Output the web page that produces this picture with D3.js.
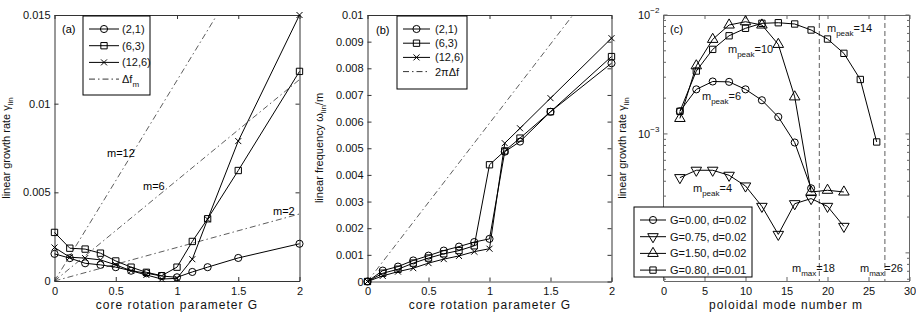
<!DOCTYPE html>
<html>
<head>
<meta charset="utf-8">
<script src="https://cdn.jsdelivr.net/npm/d3@7"></script>
<style>
  body { margin: 0; background: #fff; }
  svg { display: block; font-family: "Liberation Sans", Arial, Helvetica, sans-serif; }
</style>
</head>
<body>
<svg id="fig" width="916" height="316"></svg>
<script>
// ---- data: panel (a) growth rate vs G ----
const gValues = [0, 0.125, 0.25, 0.375, 0.5, 0.625, 0.75, 0.875, 1, 1.125, 1.25, 1.5, 2];
const gammaA21 = [0.00153, 0.00129, 0.00100, 0.00091, 0.00078, 0.00058, 0.00044, 0.00028, 0.00021, 0.00051, 0.00078, 0.00130, 0.00210];
const gammaA63 = [0.00274, 0.00185, 0.00180, 0.00157, 0.00113, 0.00078, 0.00049, 0.00030, 0.00078, 0.00223, 0.00351, 0.00623, 0.01182];
const gammaA126 = [0.00189, 0.00134, 0.00129, 0.00119, 0.00091, 0.00058, 0.00034, 0.00011, 0.00015, 0.00123, 0.00348, 0.00789, 0.01500];
const dfNames = ["m=2", "m=6", "m=12"];
const dfG = [[0, 2], [0, 2], [0, 1.326]];
const dfVal = [[0, 0.00378], [0, 0.01136], [0, 0.015]];
const legendA = ["(2,1)", "(6,3)", "(12,6)"];

// ---- data: panel (b) frequency vs G ----
const omegaB21 = [0, 0.00041, 0.00056, 0.00079, 0.00097, 0.00116, 0.00131, 0.00148, 0.00160, 0.00487, 0.00525, 0.00637, 0.00819];
const omegaB63 = [0, 0.00031, 0.00046, 0.00069, 0.00088, 0.00104, 0.00116, 0.00134, 0.00438, 0.00490, 0.00538, 0.00637, 0.00844];
const omegaB126 = [0, 0.00021, 0.00037, 0.00050, 0.00069, 0.00084, 0.00096, 0.00112, 0.00123, 0.00519, 0.00575, 0.00688, 0.00913];
const twoPiDfG = [0, 1.684];
const twoPiDfVal = [0, 0.01];

// ---- data: panel (c) growth rate vs m ----
const mG000 = [2, 4, 6, 8, 10, 12, 14, 16, 18];
const gammaG000 = [0.00155, 0.00237, 0.00276, 0.00274, 0.00237, 0.00192, 0.00139, 0.000847, 0.000349];
const mG075 = [2, 4, 6, 8, 10, 12, 14, 16, 18, 20, 22];
const gammaG075 = [0.000429, 0.000495, 0.000495, 0.000449, 0.000365, 0.000246, 0.000143, 0.000259, 0.000286, 0.000246, 0.000167];
const mG150 = [2, 4, 6, 8, 10, 12, 14, 16, 18, 20, 22];
const gammaG150 = [0.00135, 0.00374, 0.00624, 0.00824, 0.00878, 0.00824, 0.00566, 0.00205, 0.000325, 0.000336, 0.000325];
const mG080 = [2, 4, 6, 8, 10, 12, 14, 16, 18, 20, 22, 24, 26];
const gammaG080 = [0.00155, 0.00338, 0.00514, 0.00669, 0.00773, 0.00851, 0.00861, 0.00840, 0.00748, 0.00628, 0.00476, 0.00287, 0.000856];
const mMax = [19, 27];
const legendC = ["G=0.00, d=0.02", "G=0.75, d=0.02", "G=1.50, d=0.02", "G=0.80, d=0.01"];

// ---- tick values ----
const gTicks = [0, 0.5, 1, 1.5, 2];
const yTicksA = [0, 0.005, 0.01, 0.015];
const yTicksB = [0, 0.001, 0.002, 0.003, 0.004, 0.005, 0.006, 0.007, 0.008, 0.009, 0.01];
const mTicks = [0, 5, 10, 15, 20, 25, 30];
const logMajor = [1e-4, 1e-3, 1e-2];
const logLabels = ["-4", "-3", "-2"];

const svg = d3.select("#fig");
const axisColor = "#333";
const dashDot = "6,3,1.5,3";

function markerPath(mk) {
  if (mk === "o") return d3.symbol(d3.symbolCircle, 40)();
  if (mk === "s") return d3.symbol(d3.symbolSquare, 40)();
  if (mk === "x") return "M-3,-3L3,3M-3,3L3,-3";
  return d3.symbol(d3.symbolTriangle, 48)();
}

function series(g, x, y, xs, ys, mk) {
  const pts = xs.map((d, i) => [d, ys[i]]);
  g.append("path").datum(pts)
    .attr("d", d3.line().x(d => x(d[0])).y(d => y(d[1])))
    .attr("fill", "none").attr("stroke", "#000").attr("stroke-width", 1);
  g.selectAll(null).data(pts).join("path")
    .attr("transform", d => `translate(${x(d[0])},${y(d[1])})` + (mk === "v" ? " rotate(180)" : ""))
    .attr("d", markerPath(mk))
    .attr("fill", "none").attr("stroke", "#000").attr("stroke-width", 1);
}

function frame(x, y, xTicks, yTicks, yFmt, color) {
  const [x0, x1] = x.range();
  const [y0, y1] = y.range();
  const g = svg.append("g");
  g.append("g").attr("transform", `translate(0,${y0})`)
    .call(d3.axisBottom(x).tickValues(xTicks).tickSize(-4).tickSizeOuter(0).tickPadding(6).tickFormat(d3.format("")));
  g.append("g").attr("transform", `translate(0,${y1})`)
    .call(d3.axisTop(x).tickValues(xTicks).tickSize(-4).tickSizeOuter(0).tickFormat(""));
  if (yTicks) {
    g.append("g").attr("transform", `translate(${x0},0)`)
      .call(d3.axisLeft(y).tickValues(yTicks).tickSize(-4).tickSizeOuter(0).tickPadding(4).tickFormat(yFmt));
    g.append("g").attr("transform", `translate(${x1},0)`)
      .call(d3.axisRight(y).tickValues(yTicks).tickSize(-4).tickSizeOuter(0).tickFormat(""));
  }
  g.selectAll(".domain").attr("stroke", color || axisColor);
  g.selectAll(".tick line").attr("stroke", color || axisColor);
  g.selectAll(".tick text").attr("font-size", 11).attr("fill", "#111").attr("font-family", null);
  return g;
}

function subText(g, x, y, main, sub, rest, size) {
  const t = g.append("text").attr("x", x).attr("y", y).attr("font-size", size || 11).attr("fill", "#111");
  t.append("tspan").text(main);
  t.append("tspan").attr("dy", 4).attr("font-size", 8).text(sub);
  if (rest) t.append("tspan").attr("dy", -4).text(rest);
  return t;
}

function xLabel(x, text) {
  svg.append("text").attr("x", x).attr("y", 309).attr("text-anchor", "middle")
    .attr("font-size", 12).attr("letter-spacing", 1).attr("fill", "#111").text(text);
}

function yLabel(x, yMid, main, sub, rest) {
  const g = svg.append("g").attr("transform", `translate(${x},${yMid}) rotate(-90)`);
  const t = g.append("text").attr("text-anchor", "middle").attr("font-size", 11).attr("fill", "#111");
  t.append("tspan").text(main);
  t.append("tspan").attr("dy", 3).attr("font-size", 8).text(sub);
  if (rest) t.append("tspan").attr("dy", -3).text(rest);
}

function legendBox(x, y, w, h, items, rowH, lineW, textX) {
  const g = svg.append("g").attr("transform", `translate(${x},${y})`);
  g.append("rect").attr("width", w).attr("height", h).attr("fill", "#fff").attr("stroke", "#000").attr("stroke-width", 1);
  items.forEach((it, i) => {
    const cy = 13 + i * rowH;
    g.append("line").attr("x1", 6).attr("x2", 6 + lineW).attr("y1", cy).attr("y2", cy)
      .attr("stroke", "#000").attr("stroke-width", it.mk ? 1 : 0.8).attr("stroke-dasharray", it.mk ? null : dashDot);
    if (it.mk) {
      g.append("path").attr("transform", `translate(${6 + lineW / 2},${cy})` + (it.mk === "v" ? " rotate(180)" : ""))
        .attr("d", markerPath(it.mk)).attr("fill", "none").attr("stroke", "#000");
    }
    if (it.sub) subText(g, textX, cy + 4, it.label, it.sub);
    else g.append("text").attr("x", textX).attr("y", cy + 4).attr("font-size", 11).attr("fill", "#111").text(it.label);
  });
}

// ================= panel (a) =================
const xA = d3.scaleLinear().domain([0, 2]).range([54.5, 299.5]);
const yA = d3.scaleLinear().domain([0, 0.015]).range([281, 15]);
frame(xA, yA, gTicks, yTicksA, d3.format(""));
const gA = svg.append("g");
dfG.forEach((gs, i) => {
  gA.append("path").datum(gs.map((d, j) => [d, dfVal[i][j]]))
    .attr("d", d3.line().x(d => xA(d[0])).y(d => yA(d[1])))
    .attr("fill", "none").attr("stroke", "#333").attr("stroke-width", 0.8).attr("stroke-dasharray", dashDot);
});
gA.append("text").attr("x", 107).attr("y", 157).attr("font-size", 11).text(dfNames[2]);
gA.append("text").attr("x", 143).attr("y", 190).attr("font-size", 11).text(dfNames[1]);
gA.append("text").attr("x", 273).attr("y", 215).attr("font-size", 11).text(dfNames[0]);
series(gA, xA, yA, gValues, gammaA21, "o");
series(gA, xA, yA, gValues, gammaA63, "s");
series(gA, xA, yA, gValues, gammaA126, "x");
gA.append("text").attr("x", 62).attr("y", 33).attr("font-size", 11).text("(a)");
legendBox(83, 16, 67, 79, [
  { label: legendA[0], mk: "o" }, { label: legendA[1], mk: "s" },
  { label: legendA[2], mk: "x" }, { label: "\u0394f", sub: "m" }], 16.7, 30, 39);
xLabel(177, "core rotation parameter G");
yLabel(10, 148, "linear growth rate \u03b3", "lin");

// ================= panel (b) =================
const xB = d3.scaleLinear().domain([0, 2]).range([367.5, 611.5]);
const yB = d3.scaleLinear().domain([0, 0.01]).range([281.5, 15]);
const fB = frame(xB, yB, gTicks, yTicksB, d3.format(""));
fB.select("g .domain").attr("stroke", "#888").attr("stroke-width", 1.6);
const gB = svg.append("g");
gB.append("path").datum(twoPiDfG.map((d, j) => [d, twoPiDfVal[j]]))
  .attr("d", d3.line().x(d => xB(d[0])).y(d => yB(d[1])))
  .attr("fill", "none").attr("stroke", "#333").attr("stroke-width", 0.8).attr("stroke-dasharray", dashDot);
series(gB, xB, yB, gValues, omegaB21, "o");
series(gB, xB, yB, gValues, omegaB63, "s");
series(gB, xB, yB, gValues, omegaB126, "x");
gB.append("text").attr("x", 376).attr("y", 34).attr("font-size", 11).text("(b)");
legendBox(397, 16, 70, 73, [
  { label: legendA[0], mk: "o" }, { label: legendA[1], mk: "s" },
  { label: legendA[2], mk: "x" }, { label: "2\u03c0\u0394f" }], 14.2, 27, 38);
xLabel(490, "core rotation parameter G");
yLabel(323, 148, "linear frequency \u03c9", "lin", "/m");

// ================= panel (c) =================
const frameC = "#666";
const xC = d3.scaleLinear().domain([0, 30]).range([663.5, 909.5]);
const yC = d3.scaleLog().domain([5.8e-5, 1e-2]).range([281, 15]);
const fC = frame(xC, yC, mTicks, null, null, frameC);
const minor = [];
[1e-5, 1e-4, 1e-3].forEach(dec => { for (let k = 2; k <= 9; k++) minor.push(k * dec); });
const minorIn = minor.filter(v => v >= 5.8e-5 && v <= 1e-2);
[663.5, 909.5].forEach((xp, side) => {
  const dir = side === 0 ? 1 : -1;
  fC.append("line").attr("x1", xp).attr("x2", xp).attr("y1", 15).attr("y2", 281).attr("stroke", frameC);
  fC.selectAll(null).data(logMajor).join("line")
    .attr("x1", xp).attr("x2", xp + dir * 4).attr("y1", d => yC(d)).attr("y2", d => yC(d)).attr("stroke", frameC);
  fC.selectAll(null).data(minorIn).join("line")
    .attr("x1", xp).attr("x2", xp + dir * 2.5).attr("y1", d => yC(d)).attr("y2", d => yC(d)).attr("stroke", frameC);
});
logMajor.forEach((v, i) => {
  const t = fC.append("text").attr("x", 638).attr("y", yC(v) + 4).attr("font-size", 11).attr("fill", "#111");
  t.append("tspan").text("10");
  t.append("tspan").attr("dy", -6).attr("font-size", 8).text(logLabels[i].replace("-", "\u2212"));
});
const gC = svg.append("g");
mMax.forEach(m => {
  gC.append("line").attr("x1", xC(m)).attr("x2", xC(m)).attr("y1", 15).attr("y2", 281)
    .attr("stroke", "#333").attr("stroke-width", 0.8).attr("stroke-dasharray", "5,3");
});
series(gC, xC, yC, mG000, gammaG000, "o");
series(gC, xC, yC, mG075, gammaG075, "v");
series(gC, xC, yC, mG150, gammaG150, "^");
series(gC, xC, yC, mG080, gammaG080, "s");
subText(gC, 827, 32, "m", "peak", "=14");
subText(gC, 728, 53, "m", "peak", "=10");
subText(gC, 702, 100, "m", "peak", "=6");
subText(gC, 693, 192, "m", "peak", "=4");
subText(gC, 792, 272, "m", "max", "=18");
subText(gC, 860, 272, "m", "max", "=26");
gC.append("text").attr("x", 670).attr("y", 33).attr("font-size", 11).text("(c)");
legendBox(634, 207, 118, 70, [
  { label: legendC[0], mk: "o" }, { label: legendC[1], mk: "v" },
  { label: legendC[2], mk: "^" }, { label: legendC[3], mk: "s" }], 16.7, 26, 36);
xLabel(786, "poloidal mode number m");
yLabel(626, 148, "linear growth rate \u03b3", "lin");
</script>
</body>
</html>
